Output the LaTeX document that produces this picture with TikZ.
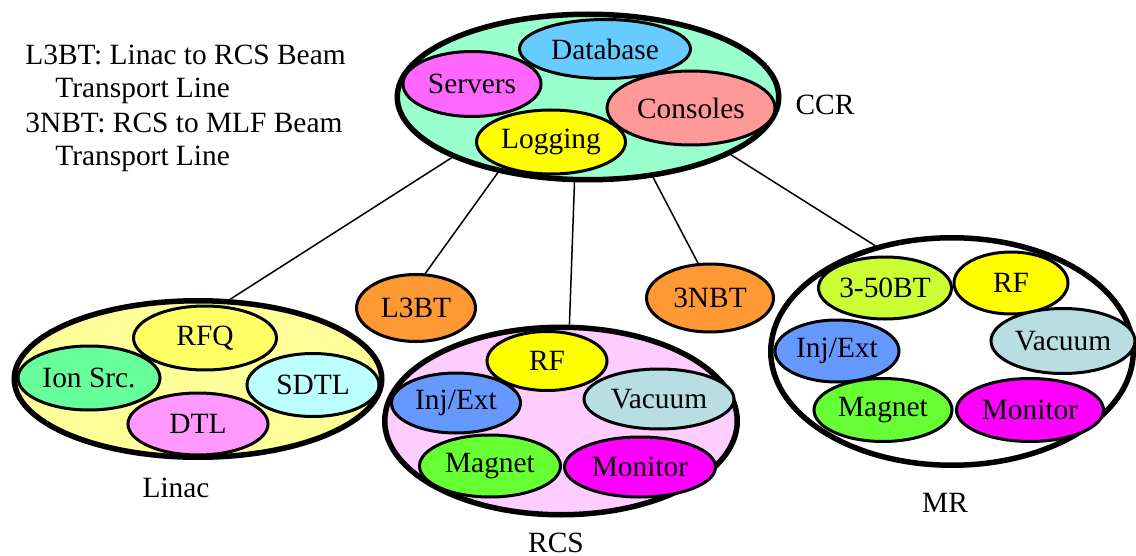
\documentclass[tikz,border=0pt]{standalone}
\usepackage{fontspec}
\setmainfont{Liberation Serif}
\usetikzlibrary{shapes.geometric}

\definecolor{ccrfill}{HTML}{99FFCC}
\definecolor{linacfill}{HTML}{FFFF99}
\definecolor{rcsfill}{HTML}{FFCCFF}
\definecolor{dbcol}{HTML}{66CCFF}
\definecolor{srvcol}{HTML}{FF66FF}
\definecolor{concol}{HTML}{FF9999}
\definecolor{yelcol}{HTML}{FFFF00}
\definecolor{rfqcol}{HTML}{FFFF66}
\definecolor{ioncol}{HTML}{66FF99}
\definecolor{sdtlcol}{HTML}{BBFFFF}
\definecolor{dtlcol}{HTML}{FF99FF}
\definecolor{btcol}{HTML}{FF9933}
\definecolor{injcol}{HTML}{6699FF}
\definecolor{vaccol}{HTML}{B8DEE2}
\definecolor{magcol}{HTML}{66FF33}
\definecolor{moncol}{HTML}{FF00FF}
\definecolor{bt50col}{HTML}{CCFF33}

\begin{document}
\begin{tikzpicture}[x=0.5pt,y=-0.5pt,
    font=\fontsize{14.7}{17}\selectfont,
    group/.style={ellipse,draw,line width=2.75pt,inner sep=0pt},
    part/.style={ellipse,draw,line width=1.5pt,inner sep=0pt},
    label/.style={inner sep=0pt}]
  \useasboundingbox (0,0) rectangle (1136,556);

  % legend
  \node[label,anchor=base west] (leg1) at (25,65) {L3BT: Linac to RCS Beam};
  \node[label,anchor=base west] (leg2) at (55,98) {Transport Line};
  \node[label,anchor=base west] (leg3) at (25,133) {3NBT: RCS to MLF Beam};
  \node[label,anchor=base west] (leg4) at (55,166) {Transport Line};

  % CCR
  \node[group,fill=ccrfill,minimum width=190.75pt,minimum height=82.75pt] (ccr) at (588,97) {};
  \node[part,fill=dbcol,minimum width=85.5pt,minimum height=29.5pt] (db) at (605,49) {Database};
  \node[part,fill=srvcol,minimum width=69pt,minimum height=32.5pt] (srv) at (472,84) {Servers};
  \node[part,fill=concol,minimum width=84pt,minimum height=37pt] (con) at (691,108) {Consoles};
  \node[part,fill=yelcol,minimum width=74.5pt,minimum height=32pt] (log) at (551,142) {Logging};
  \node[label] (ccrname) at (825,105) {CCR};

  % Linac
  \node[group,fill=linacfill,minimum width=183.75pt,minimum height=78.25pt] (linac) at (198,379) {};
  \node[part,fill=rfqcol,minimum width=71.5pt,minimum height=32pt] (rfq) at (205,338) {RFQ};
  \node[part,fill=ioncol,minimum width=71pt,minimum height=32pt] (ion) at (89,378) {Ion Src.};
  \node[part,fill=sdtlcol,minimum width=66pt,minimum height=31.5pt] (sdtl) at (313,385) {SDTL};
  \node[part,fill=dtlcol,minimum width=70pt,minimum height=31pt] (dtl) at (198,424) {DTL};
  \node[label] (linacname) at (176,488) {Linac};

  % transport lines
  \node[part,fill=btcol,minimum width=59.5pt,minimum height=33.5pt] (l3bt) at (416,308) {L3BT};
  \node[part,fill=btcol,minimum width=63.5pt,minimum height=34pt] (3nbt) at (710,298) {3NBT};

  % RCS
  \node[group,fill=rcsfill,minimum width=176.25pt,minimum height=93.75pt] (rcs) at (561,421) {};
  \node[part,fill=yelcol,minimum width=60pt,minimum height=29.5pt] (rcsrf) at (547,361) {RF};
  \node[part,fill=injcol,minimum width=64.5pt,minimum height=30pt] (rcsinj) at (456,403) {Inj/Ext};
  \node[part,fill=vaccol,minimum width=75pt,minimum height=30pt] (rcsvac) at (659,399) {Vacuum};
  \node[part,fill=magcol,minimum width=70.5pt,minimum height=31pt] (rcsmag) at (490,466) {Magnet};
  \node[part,fill=moncol,minimum width=75.5pt,minimum height=30pt] (rcsmon) at (640,467) {Monitor};
  \node[label] (rcsname) at (556,543) {RCS};

  % MR
  \node[group,fill=white,minimum width=181.25pt,minimum height=113.75pt] (mr) at (952,351.5) {};
  \node[part,fill=bt50col,minimum width=66.5pt,minimum height=31pt] (bt50) at (885,288) {3-50BT};
  \node[part,fill=yelcol,minimum width=57pt,minimum height=31pt] (mrrf) at (1011,283) {RF};
  \node[part,fill=vaccol,minimum width=72pt,minimum height=32.5pt] (mrvac) at (1063,341) {Vacuum};
  \node[part,fill=injcol,minimum width=62pt,minimum height=31pt] (mrinj) at (837,351) {Inj/Ext};
  \node[part,fill=magcol,minimum width=69pt,minimum height=31.5pt] (mrmag) at (883,410) {Magnet};
  \node[part,fill=moncol,minimum width=73.5pt,minimum height=31.5pt] (mrmon) at (1030,410) {Monitor};
  \node[label] (mrname) at (945,503) {MR};

  \begin{scope}[line width=0.75pt]
    \draw (ccr.204) to (linac.68);
    \draw (ccr.220) to (l3bt.75);
    \draw (ccr.261) to (rcs.85);
    \draw (ccr.-51) to (3nbt.109);
    \draw (ccr.-22) to (mr.126);
  \end{scope}
\end{tikzpicture}
\end{document}
